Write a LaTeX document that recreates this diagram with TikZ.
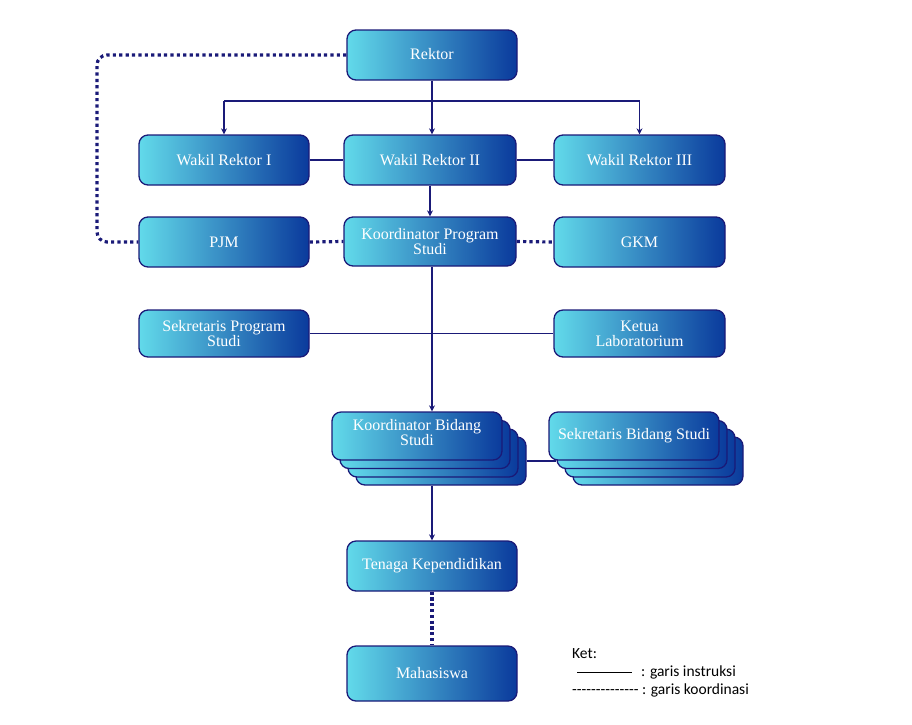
\documentclass[tikz,border=0pt]{standalone}
\usepackage{fontspec}
\setmainfont{Liberation Serif}
\newfontfamily\legfont{Carlito}
\usetikzlibrary{arrows.meta}
\pgfdeclarelayer{bg}
\pgfsetlayers{bg,main}
\definecolor{navy}{HTML}{1A1A78}
\definecolor{cyanL}{HTML}{62DAEA}
\definecolor{blueD}{HTML}{0A3A9C}
\tikzset{
  box/.style={draw=navy, line width=1.3pt, rounded corners=9pt, left color=cyanL, right color=blueD,
    minimum width=170pt, minimum height=50pt, text=white, font=\fontsize{16}{15}\selectfont,
    align=center, inner sep=2pt},
  sbox/.style={box, minimum height=48pt},
  instr/.style={draw=navy, line width=1.5pt},
  arr/.style={instr, -{Stealth[length=6pt,width=6pt]}},
  koord/.style={draw=navy, line width=3.2pt, dash pattern=on 3.2pt off 3.2pt},
  leg/.style={anchor=west, inner sep=0pt, font=\legfont\fontsize{15.5}{15.5}\selectfont}
}
\begin{document}
\begin{tikzpicture}[x=1pt,y=-1pt]
\path[use as bounding box] (0,0) rectangle (912,724);
% boxes
\node[box] (rek) at (432,55) {Rektor\\[-12pt]};
\node[box, minimum width=170pt] (wr1) at (224,160) {Wakil Rektor I};
\node[box, minimum width=172pt] (wr2) at (430,160) {Wakil Rektor II};
\node[box, minimum width=171pt] (wr3) at (639.5,160) {Wakil Rektor III};
\node[box] (pjm) at (224,242) {PJM};
\node[box, minimum width=172pt, minimum height=49pt] (kps) at (430,241.5) {Koordinator Program\\Studi};
\node[box, minimum width=171pt] (gkm) at (639.5,242) {GKM};
\node[box, minimum height=47pt] (sps) at (224,333.5) {Sekretaris Program\\Studi};
\node[box, minimum width=171pt, minimum height=47pt] (klab) at (639.5,333.5) {Ketua\\Laboratorium};
% stacks
\node[sbox] (kbs3) at (441,461) {};
\node[sbox] (kbs2) at (433,453) {};
\node[sbox] (kbs1) at (425,444.5) {};
\node[sbox] (kbs) at (417,436) {Koordinator Bidang\\Studi\\[-8pt]};
\node[sbox] (sbs3) at (658,461) {};
\node[sbox] (sbs2) at (650,453) {};
\node[sbox] (sbs1) at (642,444.5) {};
\node[sbox] (sbs) at (634,436) {Sekretaris Bidang Studi};
\node[box] (tk) at (432,566) {Tenaga Kependidikan};
\node[box, minimum height=55pt] (mhs) at (432,673.5) {Mahasiswa};
% connectors
\begin{pgfonlayer}{bg}
\coordinate (jr) at (432,101);
\draw[instr] (rek.south) -- (jr);
\draw[arr] (wr1.north |- jr) -- (wr1.north);
\draw[instr] (wr1.north |- jr) -- (wr3.north |- jr);
\draw[arr] (jr) -- (jr |- wr2.north);
\draw[arr] (wr3.north |- jr) -- (wr3.north);
\draw[instr] (wr1.east) -- (wr2.west);
\draw[instr] (wr2.east) -- (wr3.west);
\draw[arr] (wr2.south) -- (kps.north);
\draw[koord, rounded corners=10pt] (rek.west) -- (97,55) -- (97,242) -- (pjm.west);
\draw[koord] (pjm.east) -- (kps.west);
\draw[koord] (kps.east) -- (gkm.west);
\draw[arr] (kps.south -| jr) -- (jr |- kbs.north);
\draw[instr] (sps.east) -- (klab.west);
\draw[instr] (kbs3.east) -- (kbs3.east -| sbs1.west);
\draw[arr] (jr |- kbs3.south) -- (tk.north);
\draw[koord, dash pattern=on 3.2pt off 2.6pt] (tk.south) -- (mhs.north);
\end{pgfonlayer}
% legend
\node[leg] (k0) at (572,654) {Ket:};
\node[leg] (k1) at (577,672) {\rule[3.6pt]{55pt}{0.8pt}\hspace{9pt}: garis instruksi};
\node[leg] (k2) at (572,690) {-{}-{}-{}-{}-{}-{}-{}-{}-{}-{}-{}-{}-{}- : garis koordinasi};
\end{tikzpicture}
\end{document}
